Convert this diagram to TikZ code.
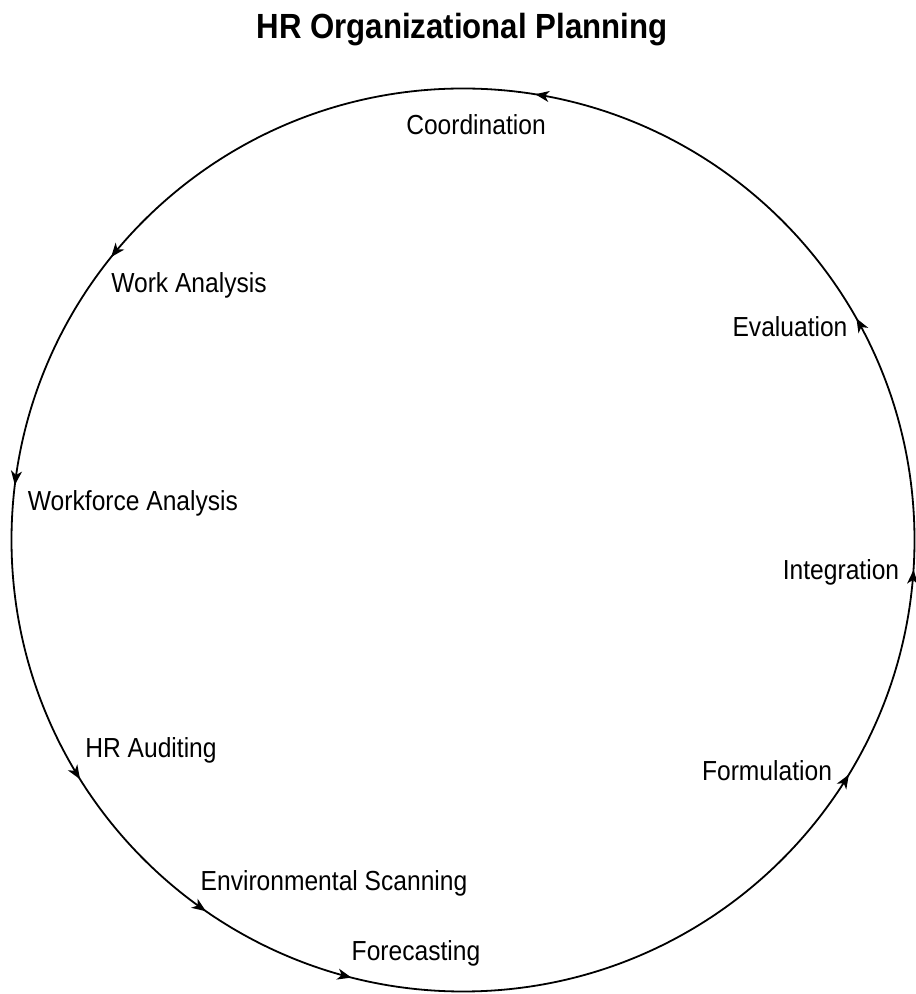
\documentclass[tikz,border=0pt]{standalone}
\usepackage{fontspec}
\setmainfont{Liberation Sans}
\usetikzlibrary{arrows.meta,decorations.markings}
\begin{document}
\begin{tikzpicture}[x=1pt,y=1pt,
  lbl/.style={inner sep=0pt,yscale=1.12,transform shape,font=\fontsize{24.6}{29}\selectfont},
  ttl/.style={inner sep=0pt,yscale=1.12,transform shape,font=\fontsize{31.2}{36}\selectfont\bfseries},
  tip/.tip={Stealth[length=14pt,width=11pt,inset=4pt]},
  cyc/.style={line width=1.8pt,decoration={markings,
    mark=at position 29.4/360 with {\arrow{tip}},
    mark=at position 80.8/360 with {\arrow{tip}},
    mark=at position 141.2/360 with {\arrow{tip}},
    mark=at position 173/360 with {\arrow{tip}},
    mark=at position 212/360 with {\arrow{tip}},
    mark=at position 235.3/360 with {\arrow{tip}},
    mark=at position 255.7/360 with {\arrow{tip}},
    mark=at position 328.7/360 with {\arrow{tip}},
    mark=at position 356.2/360 with {\arrow{tip}}
  },postaction={decorate}}]
\useasboundingbox (0,0) rectangle (916,994);
\coordinate (c) at (463,454);
\draw[cyc] (c) circle (451.5);
\node[ttl] (title) at (462,964) {HR Organizational Planning};
\node[lbl] (coord) at (476,869) {Coordination};
\node[lbl] (work) at (189,709) {Work Analysis};
\node[lbl] (eval) at (790,667) {Evaluation};
\node[lbl] (wfa) at (133,491) {Workforce Analysis};
\node[lbl] (integ) at (841,422) {Integration};
\node[lbl] (audit) at (151,244) {HR Auditing};
\node[lbl] (form) at (767,223) {Formulation};
\node[lbl] (env) at (334,111) {Environmental Scanning};
\node[lbl] (fore) at (416,41) {Forecasting};
\end{tikzpicture}
\end{document}
